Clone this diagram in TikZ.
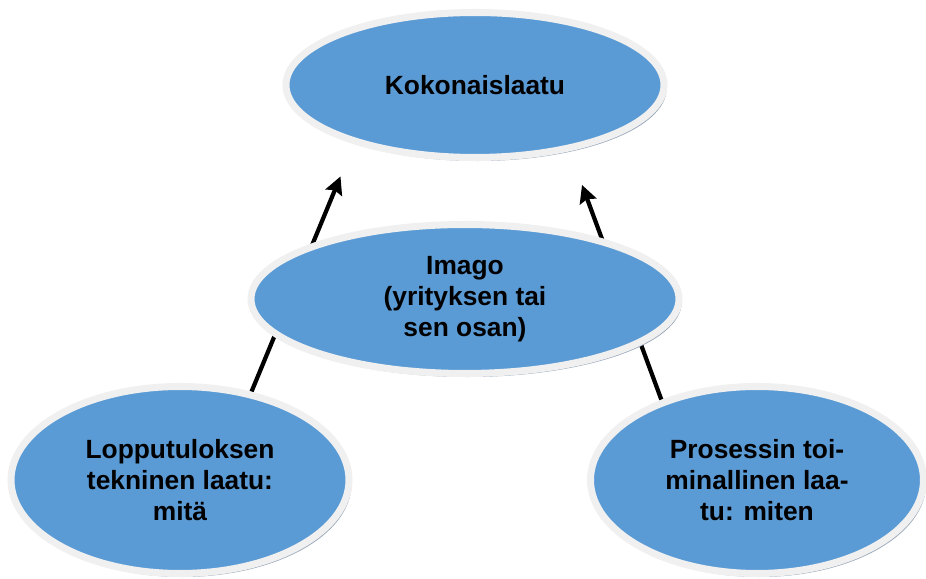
\documentclass[tikz,border=0pt]{standalone}
\usepackage{fontspec}
\setmainfont{Liberation Sans}
\usetikzlibrary{shapes.geometric,arrows.meta,shadows,backgrounds}
\definecolor{ovalblue}{HTML}{5B9BD5}
\definecolor{rim}{HTML}{F0F0F0}
\definecolor{shade}{HTML}{97A6BA}

\tikzset{
  oval/.style={ellipse, fill=ovalblue, draw=rim, line width=4pt, inner sep=0pt,
    align=center, font=\fontsize{15}{17.6}\selectfont\bfseries,
    drop shadow={shadow xshift=1.5pt, shadow yshift=-2pt, fill=shade, opacity=1}},
  link/.style={line width=2.4pt, -{Stealth[length=10pt,width=10pt,inset=1.5pt]}}
}

\begin{document}
\begin{tikzpicture}
\useasboundingbox (0,0) rectangle (18.52,11.58);
\node[oval, minimum width=7.56cm, minimum height=2.90cm] (koko) at (9.50,9.88) {Kokonaislaatu};
\node[oval, minimum width=8.56cm, minimum height=2.98cm] (imago) at (9.30,5.60)
  {Imago\\(yrityksen tai\\sen osan)};
\node[oval, minimum width=6.76cm, minimum height=3.74cm] (tekn) at (3.60,1.98)
  {Lopputuloksen\\tekninen laatu:\\mitä};
\node[oval, minimum width=6.66cm, minimum height=3.74cm] (proc) at (15.14,1.98)
  {Prosessin toi-\\minallinen laa-\\tu: miten};
% arrows run behind the ovals
\begin{pgfonlayer}{background}
\draw[link, shorten >=0.7cm] (tekn.51) -- (koko.206);
\draw[link, shorten >=0.72cm] (proc.140) -- (koko.325);
\end{pgfonlayer}
\end{tikzpicture}
\end{document}
